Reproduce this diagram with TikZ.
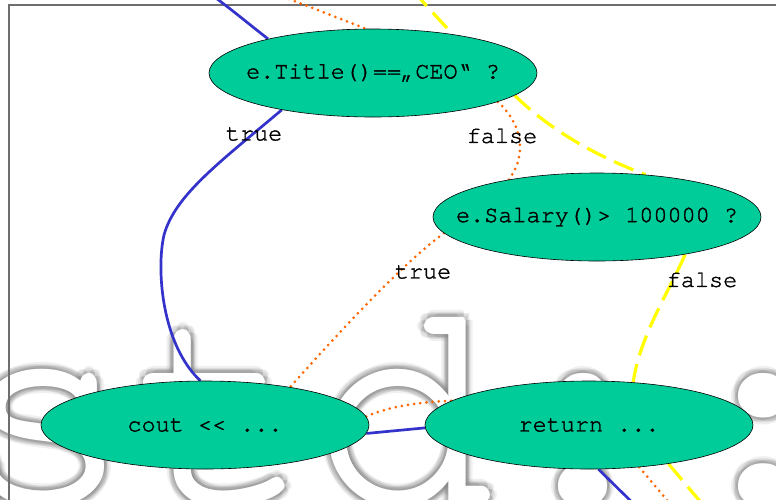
\documentclass[tikz,border=0pt]{standalone}
\usepackage{fontspec}
\usetikzlibrary{shapes.geometric,calc}
\newfontfamily\codefont[FakeBold=1.5]{TeX Gyre Cursor}
\newfontfamily\markfont{TeX Gyre Cursor}
\definecolor{nodegreen}{RGB}{0,204,153}
\definecolor{flowblue}{RGB}{51,51,204}
\definecolor{floworange}{RGB}{255,102,0}
\definecolor{flowyellow}{RGB}{255,255,0}
\definecolor{framegray}{RGB}{110,110,110}
\newcommand\centred[1]{\makebox[0pt][c]{#1}}
\pgfdeclarelayer{back}
\pgfdeclarelayer{wires}
\pgfsetlayers{back,wires,main}

\begin{document}
\begin{tikzpicture}[x=1pt,y=-1pt,
  decision/.style={ellipse, draw=black, line width=0.6pt, fill=nodegreen,
    minimum width=328pt, minimum height=88pt, inner sep=0pt,
    font=\codefont\fontsize{23.5}{28}\selectfont},
  edgelabel/.style={font=\codefont\fontsize{23.5}{28}\selectfont, inner sep=0pt},
  truepath/.style={draw=flowblue, line width=2.7pt},
  condpath/.style={draw=floworange, line width=3pt, line cap=round,
    dash pattern=on 0pt off 6.2pt},
  elsepath/.style={draw=flowyellow, line width=3.2pt, dash pattern=on 21pt off 9pt},
  wm/.style={anchor=base west, inner sep=0pt,
    font=\markfont\fontsize{300}{300}\selectfont}
]
\useasboundingbox (0,0) rectangle (776,499);
\clip (0,0) rectangle (776,499);

% decisions and statements
\node[decision] (title)  at (373,73)  {\centred{e.Title()==„CEO“ ?}};
\node[decision] (salary) at (597,217) {\centred{e.Salary()> 100000 ?}};
\node[decision] (cout)   at (205,425) {\centred{cout << ...}};
\node[decision] (ret)    at (589,425) {\centred{return ...}};

% branch labels
\node[edgelabel] (ltrue1)  at (254,134) {true};
\node[edgelabel] (lfalse1) at (502,136) {false};
\node[edgelabel] (ltrue2)  at (423,272) {true};
\node[edgelabel] (lfalse2) at (702,280) {false};

\begin{pgfonlayer}{back}
  % embossed background lettering: soft grey rim round a widened white face
  \coordinate (wmbase) at (-47,501);
  \foreach \r/\o in {9.5/0.12,7.5/0.15,5.5/0.18}{
    \foreach \a in {0,45,...,315}{
      \node[wm, text=black!50, opacity=\o] at ($(wmbase)+(\a:\r)$) {std::};
    }
  }
  \foreach \a in {0,45,...,315}{
    \node[wm, text=white] at ($(wmbase)+(\a:2.5)$) {std::};
  }
  \node[wm, text=white] (wmark) at (wmbase) {std::};
  % frame
  \draw[framegray, line width=1.2pt] (9,520) -- (9,5) -- (790,5);
\end{pgfonlayer}

% loose ends leaving the visible area
\coordinate (btop) at (205,-10);
\coordinate (otop) at (266,-10);
\coordinate (ytop) at (413,-10);
\coordinate (bbot) at (642,512);
\coordinate (obot) at (677,512);
\coordinate (ybot) at (709,512);

\begin{pgfonlayer}{wires}
  \path[truepath] (btop) .. controls (230,8) and (250,25) .. (title.162.5);
  \path[truepath] (title.202.4) .. controls (220,162) and (175,195) .. (164,235)
    .. controls (156,270) and (162,345) .. (cout.96);
  \path[truepath] (cout.-3.5) -- (ret.181);
  \path[truepath] (ret.-78.4) -- (bbot);

  \path[condpath] (otop) -- (title.99);
  \path[condpath] (title.-13.2) .. controls (518,120) and (530,150) .. (salary.157.4);
  \path[condpath] (salary.186.2) .. controls (405,262) and (350,320) .. (cout.24.2);
  \path[condpath] (cout.3.4) .. controls (390,406) and (420,402) .. (ret.170.4);
  \path[condpath] (ret.-40.6) -- (obot);

  \path[elsepath] (ytop) .. controls (425,5) and (440,20) .. (title.26.9);
  \path[elsepath] (title.-9) .. controls (540,120) and (580,150) .. (salary.41.2);
  \path[elsepath] (salary.-23.2) .. controls (670,290) and (640,335) .. (ret.44.7);
  \path[elsepath] (ret.-26.4) -- (ybot);
\end{pgfonlayer}
\end{tikzpicture}
\end{document}
